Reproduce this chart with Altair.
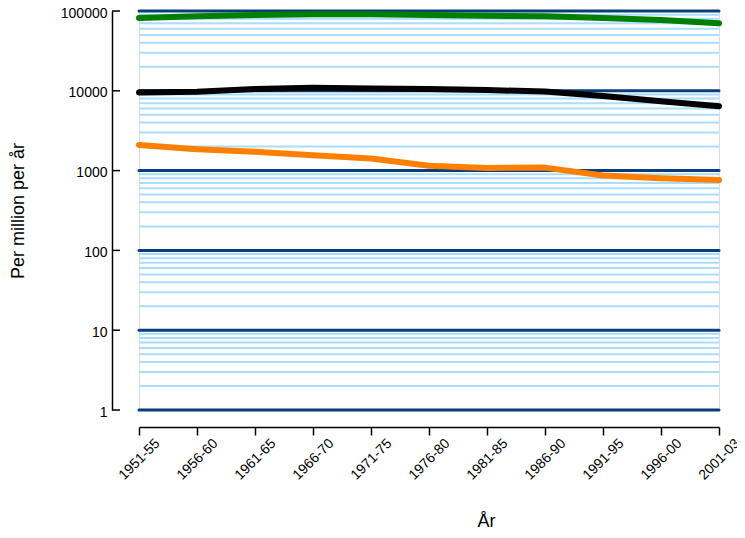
import altair as alt
import pandas as pd

categories = ["1951-55", "1956-60", "1961-65", "1966-70", "1971-75", "1976-80",
              "1981-85", "1986-90", "1991-95", "1996-00", "2001-03"]
green = [82000, 86000, 89000, 91000, 91000, 89000, 87000, 86000, 82000, 77000, 70000]
black = [9500, 9750, 10500, 10900, 10700, 10500, 10200, 9800, 8600, 7400, 6400]
orange = [2100, 1850, 1720, 1560, 1420, 1150, 1080, 1090, 870, 800, 760]

major_ticks = [1, 10, 100, 1000, 10000, 100000]
minor_steps = [2, 3, 4, 5, 6, 7, 8, 9]
minor_ticks = [m * k for m in major_ticks[:-1] for k in minor_steps]

series_names = ["green", "black", "orange"]
series_colors = ["#008000", "#000000", "#FF8000"]

rows = []
for name, vals in zip(series_names, [green, black, orange]):
    for c, v in zip(categories, vals):
        rows.append({"period": c, "value": v, "series": name})
lines_df = pd.DataFrame(rows)
major_df = pd.DataFrame({"v": major_ticks})
minor_df = pd.DataFrame({"v": minor_ticks})

FONT = "Liberation Sans"

yscale = alt.Scale(type="log", domain=[1, 100000], nice=False)
yaxis = alt.Axis(
    values=major_ticks, format="d", offset=27, ticks=False, tickSize=0,
    domainColor="black", domainWidth=1.5, grid=False,
    labelFont=FONT, labelFontSize=14, labelColor="black", labelPadding=5,
    labelOffset=2,
    title="Per million per år", titleFont=FONT, titleFontSize=18,
    titleFontWeight="normal", titleColor="black", titleAngle=-90,
    titleAlign="center", titleBaseline="middle", titleX=-94, titleY=199.5,
)
xaxis = alt.Axis(
    offset=17, domainColor="black", domainWidth=1.5, tickColor="black",
    tickWidth=1.5, tickSize=8, grid=False,
    labelAngle=-45, labelAlign="center", labelBaseline="middle", labelPadding=24,
    labelFont=FONT, labelFontSize=14, labelColor="black",
    title="År", titleFont=FONT, titleFontSize=18, titleFontWeight="normal",
    titleColor="black", titleX=347, titleY=94, titleBaseline="middle",
    titleAlign="center",
)

y_enc = alt.Y("v:Q", scale=yscale, axis=yaxis)

minor = alt.Chart(minor_df).mark_rule(color="#AADDFF", strokeWidth=2).encode(y=y_enc)
major = alt.Chart(major_df).mark_rule(color="#083D7C", strokeWidth=3, strokeCap="round").encode(y=y_enc)
yticks = alt.Chart(major_df).mark_rule(color="black", strokeWidth=1.5).encode(
    y=y_enc, x=alt.value(-27), x2=alt.value(-19)
)
lines = alt.Chart(lines_df).mark_line(strokeWidth=6, strokeCap="round", strokeJoin="round").encode(
    x=alt.X("period:O", sort=categories, scale=alt.Scale(type="point", padding=0), axis=xaxis),
    y=alt.Y("value:Q", scale=yscale, axis=yaxis),
    color=alt.Color("series:N", scale=alt.Scale(domain=series_names, range=series_colors), legend=None),
    detail="series:N",
)

chart = alt.layer(minor, major, yticks, lines).properties(
    width=580, height=399,
    autosize=alt.AutoSizeParams(type="none"),
    padding={"left": 131, "top": 3, "right": 18, "bottom": 119},
).configure_view(stroke=None).configure(background="white")

chart.save("out.html", embed_options={"renderer": "svg", "actions": False})
